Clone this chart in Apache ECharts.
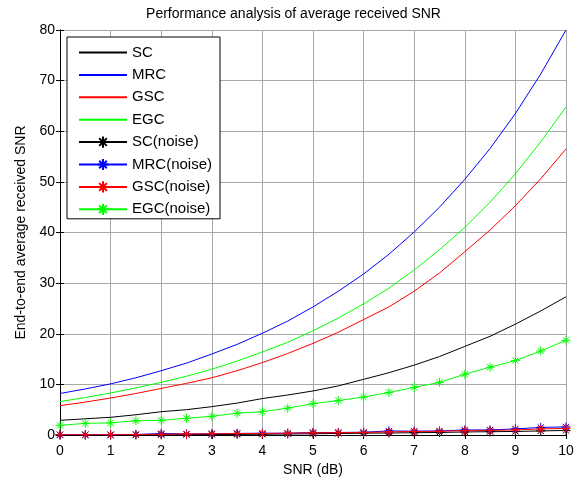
<!DOCTYPE html>
<html>
<head>
<meta charset="utf-8">
<script src="https://cdn.jsdelivr.net/npm/echarts@6/dist/echarts.min.js"></script>
<style>html,body{margin:0;padding:0;background:#fff;}#c{width:587px;height:482px;}</style>
</head>
<body>
<div id="c"></div>
<script>
const snr = [0,0.5,1,1.5,2,2.5,3,3.5,4,4.5,5,5.5,6,6.5,7,7.5,8,8.5,9,9.5,10];
const SC  = [2.9,3.2,3.5,4.0,4.6,5.0,5.6,6.3,7.2,7.9,8.7,9.7,11.0,12.3,13.8,15.5,17.5,19.5,21.9,24.5,27.3];
const MRC = [8.2,9.1,10.1,11.3,12.7,14.2,16.0,17.9,20.1,22.5,25.3,28.4,31.8,35.7,40.1,45.0,50.5,56.6,63.5,71.3,80.0];
const GSC = [5.8,6.5,7.3,8.2,9.2,10.2,11.3,12.7,14.3,16.1,18.1,20.3,22.8,25.3,28.4,32.0,36.2,40.5,45.3,50.6,56.5];
const EGC = [6.6,7.4,8.3,9.3,10.4,11.6,13.0,14.6,16.4,18.3,20.6,23.1,25.9,29.0,32.6,36.6,41.0,46.0,51.6,57.9,64.8];
const SC_noise  = [0,0,0,0,0.05,0.08,0.1,0.12,0.15,0.2,0.25,0.3,0.35,0.4,0.45,0.5,0.6,0.65,0.7,0.8,0.9];
const MRC_noise = [0.05,0.05,0.05,0.1,0.3,0.2,0.25,0.3,0.35,0.35,0.5,0.5,0.55,0.8,0.75,0.8,1.0,1.0,1.2,1.5,1.6];
const GSC_noise = [0.05,0.05,0.05,0.08,0.15,0.2,0.25,0.3,0.3,0.35,0.45,0.45,0.5,0.6,0.7,0.75,0.85,0.9,1.0,1.2,1.3];
const EGC_noise = [1.9,2.3,2.4,2.8,2.9,3.3,3.7,4.3,4.6,5.3,6.2,6.8,7.5,8.4,9.4,10.4,12.0,13.4,14.7,16.6,18.7];
const xTicks = [0,1,2,3,4,5,6,7,8,9,10];
const yTicks = [0,10,20,30,40,50,60,70,80];

const FONT = 'Liberation Sans, Arial, sans-serif';
const star = 'path://M5 0 L5 10 M0 5 L10 5 M1.6 1.6 L8.4 8.4 M1.6 8.4 L8.4 1.6';
const pair = a => snr.map((x,i)=>[x,a[i]]);

function plain(name, data, color, z){
  return {name, type:'line', data:pair(data), showSymbol:false, symbol:'none', z,
    lineStyle:{color, width:1}, itemStyle:{color}, animation:false};
}
function noisy(name, data, color, z){
  return {name, type:'line', data:pair(data), symbol:star, symbolSize:9, z,
    lineStyle:{color, width:1},
    itemStyle:{color, borderColor:color, borderWidth:1}, animation:false};
}

const chart = echarts.init(document.getElementById('c'), null, {renderer:'canvas'});
chart.setOption({
  backgroundColor:'#fff',
  animation:false,
  title:{text:'Performance analysis of average received SNR', left:'center', top:2,
    textStyle:{fontFamily:FONT, fontSize:14, fontWeight:'normal', color:'#000'}},
  grid:{left:60, right:21, top:30, bottom:45, containLabel:false},
  legend:{orient:'vertical', left:67, top:37, backgroundColor:'#fff', borderColor:'#000', borderWidth:1,
    padding:[8,8,2,11], itemWidth:48, itemHeight:14, itemGap:7.4,
    textStyle:{fontFamily:FONT, fontSize:15, color:'#000'},
    data:[
      {name:'SC', itemStyle:{opacity:0}},
      {name:'MRC', itemStyle:{opacity:0}},
      {name:'GSC', itemStyle:{opacity:0}},
      {name:'EGC', itemStyle:{opacity:0}},
      'SC(noise)','MRC(noise)','GSC(noise)','EGC(noise)']},
  xAxis:[
    {type:'value', min:0, max:10, interval:1, position:'bottom',
     name:'SNR (dB)', nameLocation:'middle', nameGap:28,
     nameTextStyle:{fontFamily:FONT, fontSize:14, color:'#000'},
     axisLine:{lineStyle:{color:'#000', width:1}},
     axisTick:{inside:true, length:4, lineStyle:{color:'#000'}},
     axisLabel:{fontFamily:FONT, fontSize:14, color:'#000', margin:9,
       formatter:v=>xTicks.includes(v)?String(v):''},
     splitLine:{show:true, lineStyle:{color:'#a8a8a8', width:1}}},
    {type:'value', min:0, max:10, interval:1, position:'top',
     axisLine:{lineStyle:{color:'#000', width:1}},
     axisTick:{inside:true, length:4, lineStyle:{color:'#000'}},
     axisLabel:{show:false}, splitLine:{show:false}}
  ],
  yAxis:[
    {type:'value', min:0, max:80, interval:10, position:'left',
     name:'End-to-end average received SNR', nameLocation:'middle', nameGap:32,
     nameTextStyle:{fontFamily:FONT, fontSize:14, color:'#000'},
     axisLine:{show:true, lineStyle:{color:'#000', width:1}},
     axisTick:{show:true, inside:true, length:4, lineStyle:{color:'#000'}},
     axisLabel:{fontFamily:FONT, fontSize:14, color:'#000', margin:5,
       formatter:v=>yTicks.includes(v)?String(v):''},
     splitLine:{show:true, lineStyle:{color:'#a8a8a8', width:1}}},
    {type:'value', min:0, max:80, interval:10, position:'right',
     axisLine:{show:true, lineStyle:{color:'#000', width:1}},
     axisTick:{show:true, inside:true, length:4, lineStyle:{color:'#000'}},
     axisLabel:{show:false}, splitLine:{show:false}}
  ],
  series:[
    plain('SC', SC, '#000000', 2),
    plain('MRC', MRC, '#0000ff', 3),
    plain('GSC', GSC, '#ff0000', 4),
    plain('EGC', EGC, '#00ff00', 5),
    noisy('SC(noise)', SC_noise, '#000000', 6),
    noisy('MRC(noise)', MRC_noise, '#0000ff', 7),
    noisy('GSC(noise)', GSC_noise, '#ff0000', 8),
    noisy('EGC(noise)', EGC_noise, '#00ff00', 9)
  ]
});
</script>
</body>
</html>
